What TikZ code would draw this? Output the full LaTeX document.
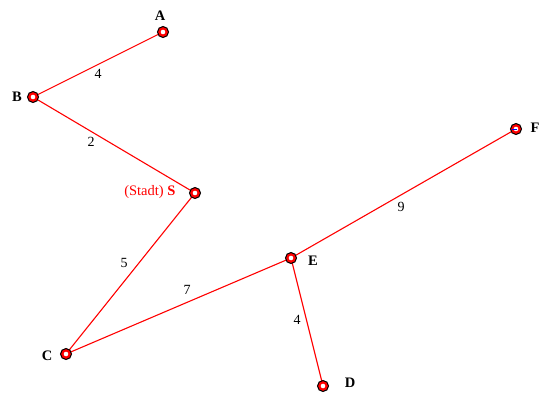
\documentclass[tikz,border=0pt]{standalone}
\usepackage{fontspec}
\setmainfont{Liberation Serif}
\begin{document}
\begin{tikzpicture}[x=1pt,y=-1pt,
  vert/.style={circle,draw=black,line width=1pt,fill=red,inner sep=0pt,minimum size=11pt},
  edge/.style={red,line width=1.1pt},
  vlab/.style={font=\fontsize{14.5}{16}\selectfont\bfseries},
  elab/.style={font=\fontsize{14}{16}\selectfont}]
\useasboundingbox (0,0) rectangle (551,392);
\fill[white] (0,0) rectangle (551,392);
\coordinate (A) at (163,32);
\coordinate (B) at (33,97);
\coordinate (S) at (195,193);
\coordinate (F) at (516,129);
\coordinate (E) at (291,258);
\coordinate (C) at (66,354);
\coordinate (D) at (323,386);
\draw[edge] (A) -- (B);
\draw[edge] (B) -- (S);
\draw[edge] (S) -- (C);
\draw[edge] (C) -- (E);
\draw[edge] (E) -- (F);
\draw[edge] (E) -- (D);
\foreach \n in {A,B,S,F,E,C,D} {
  \node[vert] (v\n) at (\n) {};
  \fill[white] (v\n.center) circle (2.3pt);
}
\draw[blue,line width=1pt] (511.5,129) -- (517,129);
\node[vlab] (lA) at (160,16) {A};
\node[vlab] (lB) at (17,97) {B};
\node[vlab,red,anchor=east] (lS) at (179,192) {\textmd{(Stadt)} S};
\node[vlab] (lF) at (535,128) {F};
\node[vlab] (lE) at (313,261) {E};
\node[vlab] (lC) at (47,356) {C};
\node[vlab] (lD) at (350,383) {D};
\node[elab] (eAB) at (98,74) {4};
\node[elab] (eBS) at (91,142) {2};
\node[elab] (eSC) at (124,263) {5};
\node[elab] (eCE) at (187,290) {7};
\node[elab] (eEF) at (401,207) {9};
\node[elab] (eED) at (297,320) {4};
\end{tikzpicture}
\end{document}
